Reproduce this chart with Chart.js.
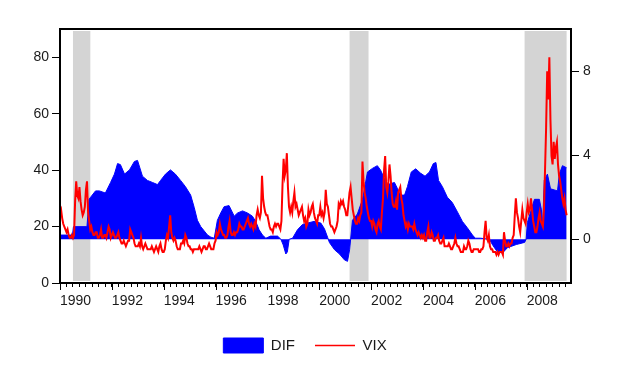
<!DOCTYPE html>
<html>
<head>
<meta charset="utf-8">
<title>DIF and VIX</title>
<script src="https://cdn.jsdelivr.net/npm/chart.js@4.4.0/dist/chart.umd.min.js"></script>
<style>
  html, body { margin: 0; padding: 0; background: #fff; }
  #wrap { width: 620px; height: 381px; }
</style>
</head>
<body>
<div id="wrap"><canvas id="chart" width="620" height="381"></canvas></div>
<script>
// VIX, two readings per month (first / second half), starting Jan 1990
var vixStart = 1990;
var vixValues = [
  25, 26, 23, 21, 20, 19, 18, 19, 17, 16, 16, 17, 16, 17, 29, 36, 31, 30, 34, 29, 26, 24, 25, 27, // 1990
  33, 36, 25, 22, 19, 20, 18, 17, 17, 18, 18, 16, 16, 17, 19, 16, 16, 17, 17, 16, 18, 20, 19, 16, // 1991
  17, 18, 17, 16, 16, 17, 18, 16, 15, 14, 14, 15, 14, 13, 14, 15, 15, 19, 18, 17, 16, 14, 13, 13, // 1992
  13, 14, 13, 16, 13, 12, 13, 14, 13, 12, 12, 12, 12, 13, 12, 11, 12, 13, 12, 11, 13, 14, 12, 11, // 1993
  11, 12, 15, 17, 16, 20, 24, 18, 16, 15, 16, 15, 13, 12, 12, 12, 14, 14, 15, 14, 17, 16, 14, 13, // 1994
  13, 12, 12, 11, 12, 12, 12, 12, 12, 13, 12, 11, 12, 13, 13, 12, 12, 13, 14, 13, 12, 12, 12, 14, // 1995
  15, 18, 17, 18, 21, 19, 18, 17, 17, 16, 16, 17, 20, 22, 18, 17, 17, 18, 17, 18, 18, 19, 21, 20, // 1996
  20, 19, 19, 20, 21, 22, 23, 21, 20, 21, 20, 19, 21, 20, 24, 26, 24, 23, 25, 38, 30, 27, 25, 24, // 1997
  24, 22, 20, 19, 19, 18, 20, 21, 20, 21, 21, 20, 19, 22, 35, 44, 38, 40, 46, 34, 27, 25, 27, 25, // 1998
  29, 32, 27, 28, 26, 24, 25, 26, 27, 24, 22, 23, 20, 21, 26, 24, 25, 27, 28, 25, 23, 22, 21, 24, // 1999
  24, 27, 24, 25, 23, 25, 33, 28, 27, 24, 21, 20, 20, 19, 18, 19, 20, 22, 28, 27, 29, 28, 29, 27, // 2000
  26, 24, 24, 28, 32, 34, 30, 26, 24, 22, 21, 21, 23, 22, 24, 25, 43, 36, 32, 30, 27, 25, 23, 22, // 2001
  22, 20, 22, 21, 19, 18, 21, 22, 20, 19, 25, 30, 40, 45, 34, 32, 36, 42, 38, 32, 28, 27, 27, 29, // 2002
  26, 32, 33, 34, 30, 28, 24, 22, 20, 21, 19, 21, 20, 20, 20, 19, 21, 19, 18, 17, 18, 17, 16, 17, // 2003
  16, 17, 15, 15, 18, 20, 16, 16, 18, 17, 15, 15, 16, 16, 17, 15, 14, 14, 15, 16, 13, 13, 13, 13, // 2004
  14, 13, 12, 12, 13, 14, 16, 14, 13, 13, 12, 11, 11, 11, 13, 12, 12, 13, 15, 14, 12, 11, 11, 12, // 2005
  12, 12, 12, 12, 11, 11, 12, 12, 13, 18, 22, 16, 15, 17, 13, 12, 12, 11, 11, 11, 10, 11, 10, 11, // 2006
  11, 11, 10, 18, 15, 13, 13, 14, 13, 14, 14, 16, 17, 24, 30, 25, 23, 20, 18, 22, 26, 23, 22, 21, // 2007
  25, 28, 25, 26, 30, 26, 22, 20, 18, 18, 20, 23, 25, 22, 21, 20, 26, 40, 55, 75, 65, 80, 58, 45, // 2008
  42, 50, 44, 48, 50, 42, 38, 36, 33, 30, 28, 30, 26, 24                                          // 2009
];

// DIF, read at turning points of the filled area
var difYears = [
  1990.0, 1990.48, 1990.52, 1991.04, 1991.12, 1991.18, 1991.37, 1991.52, 1991.75, 1991.95,
  1992.1, 1992.22, 1992.33, 1992.49, 1992.68, 1992.87, 1992.99, 1993.18, 1993.37, 1993.57,
  1993.76, 1993.88, 1994.07, 1994.26, 1994.45, 1994.65, 1994.84, 1995.04, 1995.18, 1995.3,
  1995.43, 1995.56, 1995.69, 1995.82, 1995.95, 1996.07, 1996.2, 1996.33, 1996.52, 1996.72,
  1996.85, 1997.04, 1997.23, 1997.42, 1997.55, 1997.68, 1997.81, 1997.94, 1998.12, 1998.39,
  1998.52, 1998.61, 1998.71, 1998.77, 1998.84, 1998.97, 1999.16, 1999.35, 1999.55, 1999.8,
  2000.06, 2000.2, 2000.32, 2000.39, 2000.59, 2000.78, 2000.97, 2001.09, 2001.17, 2001.21,
  2001.28, 2001.47, 2001.67, 2001.86, 2002.05, 2002.24, 2002.36, 2002.51, 2002.63, 2002.9,
  2003.02, 2003.13, 2003.29, 2003.4, 2003.55, 2003.72, 2003.9, 2004.08, 2004.25, 2004.4,
  2004.5, 2004.6, 2004.75, 2004.94, 2005.13, 2005.33, 2005.52, 2005.71, 2005.91, 2006.02,
  2006.22, 2006.56, 2006.7, 2006.87, 2007.07, 2007.26, 2007.6, 2007.92, 2007.98, 2008.03,
  2008.15, 2008.3, 2008.49, 2008.57, 2008.61, 2008.68, 2008.8, 2008.92, 2009.19, 2009.26,
  2009.38, 2009.54
];
var difValues = [
  0.2, 0.2, 0.6, 0.6, 1.9, 2.0, 2.3, 2.3, 2.2, 2.7,
  3.1, 3.6, 3.55, 3.1, 3.3, 3.7, 3.75, 3.0, 2.8, 2.7,
  2.6, 2.8, 3.1, 3.3, 3.1, 2.8, 2.5, 2.1, 1.5, 0.9,
  0.6, 0.4, 0.2, 0.1, 0.05, 0.9, 1.25, 1.55, 1.6, 1.1,
  1.25, 1.35, 1.25, 1.1, 0.85, 0.45, 0.2, 0.05, 0.15, 0.15,
  0.0, -0.27, -0.7, -0.6, 0.0, 0.05, 0.45, 0.7, 0.77, 0.85,
  0.77, 0.5, 0.1, -0.15, -0.5, -0.7, -0.98, -1.05, -0.5, 0.0,
  0.9, 1.2, 1.9, 3.2, 3.37, 3.5, 3.3, 2.9, 2.6, 2.7,
  2.4, 2.1, 2.1, 2.5, 3.2, 3.35, 3.15, 3.0, 3.2, 3.6,
  3.65, 2.8, 2.5, 2.0, 1.75, 1.3, 0.85, 0.55, 0.2, 0.05,
  0.05, 0.0, -0.3, -0.6, -0.65, -0.4, -0.25, -0.15, 0.0, 0.8,
  1.3, 1.9, 1.9, 1.4, 0.5, 2.8, 3.1, 2.4, 2.3, 3.1,
  3.5, 3.4
];

// NBER recessions (shaded)
var recessionStart = [1990.5, 2001.17, 2007.92];
var recessionEnd = [1991.17, 2001.9, 2009.54];

var yearLabels = ['1990', '1992', '1994', '1996', '1998', '2000', '2002', '2004', '2006', '2008'];
var vixTicks = [0, 20, 40, 60, 80];
var difTicks = [0, 4, 8];

var font = 'Arial, "Liberation Sans", Helvetica, sans-serif';
var ink = '#1a1a1a';

var vixPoints = vixValues.map(function(v, i){ return {x: vixStart + i / 24, y: v}; });
var difPoints = difYears.map(function(y, i){ return {x: y, y: difValues[i]}; });

var quarters = [];
for (var q = 0; q <= 19 * 4 + 2; q++) quarters.push({value: 1990 + q * 0.25});

var shading = {
    id: 'shading',
    beforeDatasetsDraw: function(chart){
        var ctx = chart.ctx, a = chart.chartArea, x = chart.scales.x;
        ctx.save();
        ctx.fillStyle = '#d4d4d4';
        for (var i = 0; i < recessionStart.length; i++){
            var x1 = x.getPixelForValue(recessionStart[i]);
            var x2 = x.getPixelForValue(recessionEnd[i]);
            ctx.fillRect(x1, a.top + 2, x2 - x1, a.bottom - a.top - 4);
        }
        ctx.restore();
    },
    afterDraw: function(chart){
        var ctx = chart.ctx, a = chart.chartArea, x = chart.scales.x;
        ctx.save();
        ctx.strokeStyle = '#000';
        ctx.lineWidth = 2;
        ctx.strokeRect(a.left, a.top, a.right - a.left, a.bottom - a.top);
        ctx.lineWidth = 1;
        yearLabels.forEach(function(l){
            var px = Math.round(x.getPixelForValue(+l)) + 0.5;
            ctx.beginPath();
            ctx.moveTo(px, a.bottom);
            ctx.lineTo(px, a.bottom + 7);
            ctx.stroke();
        });
        ctx.restore();
    }
};

var ctx = document.getElementById('chart');
var chart = new Chart(ctx, {
    type: 'line',
    plugins: [shading],
    data: {
        datasets: [{
            label: 'DIF',
            data: difPoints,
            yAxisID: 'y1',
            borderColor: '#0000ff',
            backgroundColor: '#0000ff',
            borderWidth: 1,
            fill: 'origin',
            pointRadius: 0,
            tension: 0,
            order: 1
        }, {
            label: 'VIX',
            data: vixPoints,
            yAxisID: 'y',
            borderColor: '#ff0000',
            borderWidth: 2,
            fill: false,
            pointRadius: 0,
            tension: 0,
            order: 0
        }]
    },
    options: {
        responsive: false,
        animation: false,
        events: [],
        layout: { padding: { top: 29, left: 0, right: 10, bottom: 18 } },
        scales: {
            x: {
                type: 'linear',
                min: 1990,
                max: 2009.71,
                afterBuildTicks: function(s){ s.ticks = quarters.slice(); },
                afterFit: function(s){ s.height = 35; },
                ticks: {
                    autoSkip: false,
                    maxRotation: 0,
                    align: 'start',
                    padding: 6,
                    color: ink,
                    font: { family: font, size: 14 },
                    callback: function(v){ return yearLabels.indexOf(String(v)) >= 0 ? String(v) : ''; }
                },
                grid: { drawOnChartArea: false, tickLength: 4, tickColor: '#000' },
                border: { display: false }
            },
            y: {
                position: 'left',
                min: 0,
                max: 90,
                afterBuildTicks: function(s){ s.ticks = vixTicks.map(function(v){ return {value: v}; }); },
                afterFit: function(s){ s.width = 60; },
                ticks: { padding: 3, color: ink, font: { family: font, size: 14 } },
                grid: { drawOnChartArea: false, tickLength: 8, tickColor: '#000' },
                border: { display: false }
            },
            y1: {
                position: 'right',
                min: -2.08,
                max: 10,
                afterBuildTicks: function(s){ s.ticks = difTicks.map(function(v){ return {value: v}; }); },
                afterFit: function(s){ s.width = 39; },
                ticks: { padding: 4, color: ink, font: { family: font, size: 14 } },
                grid: { drawOnChartArea: false, tickLength: 8, tickColor: '#000' },
                border: { display: false }
            }
        },
        plugins: {
            tooltip: { enabled: false },
            legend: {
                position: 'bottom',
                labels: {
                    usePointStyle: true,
                    pointStyleWidth: 40,
                    boxHeight: 15,
                    padding: 20,
                    color: ink,
                    font: { family: font, size: 15 },
                    generateLabels: function(){
                        return [
                            { text: 'DIF', fillStyle: '#0000ff', strokeStyle: '#0000ff', lineWidth: 1, pointStyle: 'rect', datasetIndex: 0, hidden: false, fontColor: ink },
                            { text: 'VIX', fillStyle: '#ff0000', strokeStyle: '#ff0000', lineWidth: 1.5, pointStyle: 'line', datasetIndex: 1, hidden: false, fontColor: ink }
                        ];
                    }
                }
            }
        }
    }
});
</script>
</body>
</html>
